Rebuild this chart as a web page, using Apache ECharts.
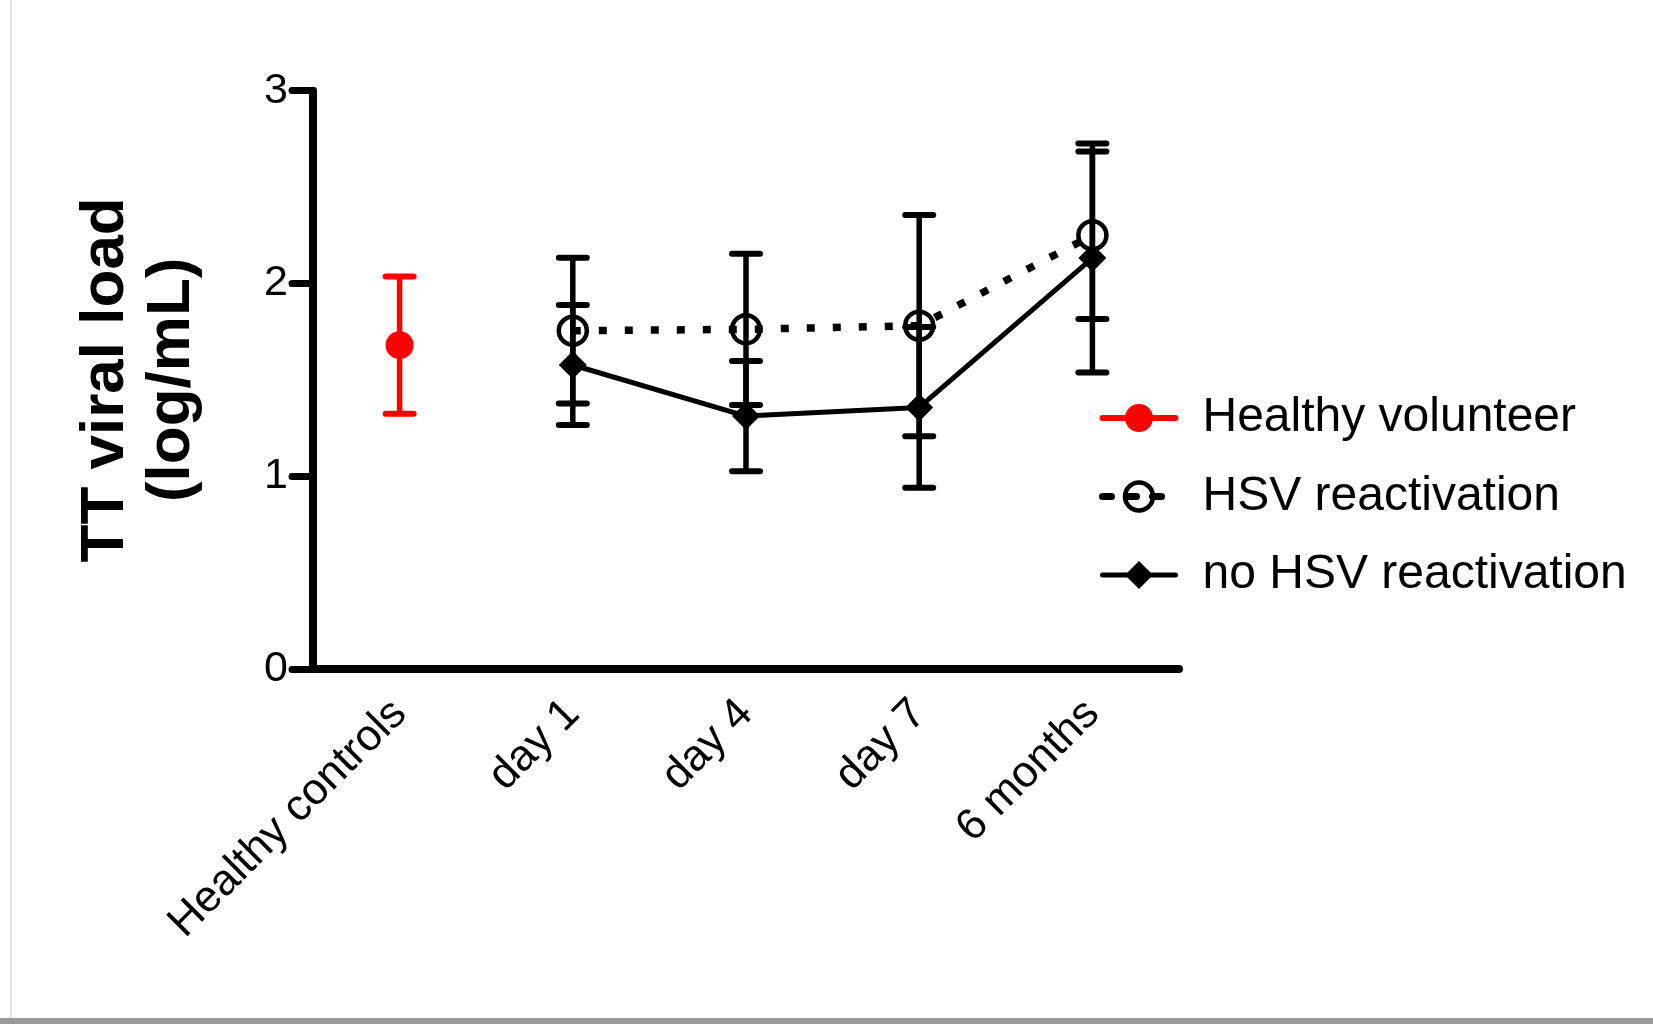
<!DOCTYPE html>
<html>
<head>
<meta charset="utf-8">
<script src="https://cdn.jsdelivr.net/npm/echarts@6/dist/echarts.min.js"></script>
<style>
  html, body { margin: 0; padding: 0; background: #fff; }
  #chart { width: 1653px; height: 1024px; }
</style>
</head>
<body>
<div id="chart"></div>
<script>
// Time points along the x axis
const categories = ['Healthy controls', 'day 1', 'day 4', 'day 7', '6 months'];

// Mean TT viral load (log/mL) and SD for each group
const healthyMean = [1.68, null, null, null, null];
const healthySd   = [0.356, null, null, null, null];
const hsvMean     = [null, 1.755, 1.762, 1.781, 2.25];
const hsvSd       = [null, 0.378, 0.392, 0.574, 0.434];
const noHsvMean   = [null, 1.577, 1.312, 1.357, 2.132];
const noHsvSd     = [null, 0.311, 0.286, 0.417, 0.594];

// y axis range
const yMin = 0, yMax = 3, yStep = 1;

const FONT = '"Liberation Sans", Arial, Helvetica, sans-serif';

function errorData(mean, sd) {
  const out = [];
  mean.forEach((m, i) => {
    if (m != null) out.push([i, m - sd[i], m + sd[i]]);
  });
  return out;
}

// Vertical SD bar with a short cap at each end
function errorBars(color) {
  return function (params, api) {
    const x = api.value(0);
    const pLo = api.coord([x, api.value(1)]);
    const pHi = api.coord([x, api.value(2)]);
    const half = 14;
    const capStyle = { stroke: color, lineWidth: 6, lineCap: 'round' };
    return {
      type: 'group',
      children: [
        { type: 'line', shape: { x1: pLo[0], y1: pLo[1], x2: pHi[0], y2: pHi[1] },
          style: { stroke: color, lineWidth: 5.5 } },
        { type: 'line', shape: { x1: pHi[0] - half, y1: pHi[1], x2: pHi[0] + half, y2: pHi[1] },
          style: capStyle },
        { type: 'line', shape: { x1: pLo[0] - half, y1: pLo[1], x2: pLo[0] + half, y2: pLo[1] },
          style: capStyle }
      ]
    };
  };
}

const chart = echarts.init(document.getElementById('chart'), null, { renderer: 'canvas' });

const hsvDash = [8, 18];

chart.setOption({
  backgroundColor: '#fff',
  animation: false,
  textStyle: { fontFamily: FONT },
  grid: { left: 313, right: 474, top: 90.7, bottom: 355, containLabel: false },
  graphic: [
    { type: 'rect', left: 10, top: 0, shape: { width: 2, height: 1018 },
      style: { fill: '#e2e2e2' }, silent: true },
    { type: 'rect', left: 0, top: 1018, shape: { width: 1653, height: 6 },
      style: { fill: '#9a9a9a' }, silent: true }
  ],
  legend: {
    orient: 'vertical',
    left: 1094,
    top: 388,
    itemWidth: 73,
    itemHeight: 35,
    itemGap: 28.5,
    data: [
      { name: 'Healthy volunteer',
        itemStyle: { color: '#ff0000', borderWidth: 0 },
        lineStyle: { color: '#ff0000', width: 6, cap: 'round' } },
      { name: 'HSV reactivation',
        itemStyle: { color: 'rgba(0,0,0,0)', borderColor: '#000', borderWidth: 4.5 },
        lineStyle: { color: '#000', width: 7, type: [9, 16], cap: 'round' } },
      { name: 'no HSV reactivation',
        itemStyle: { color: '#000', borderWidth: 0 },
        lineStyle: { color: '#000', width: 5, cap: 'round' } }
    ],
    textStyle: {
      fontFamily: FONT, fontSize: 48, color: '#000', lineHeight: 50,
      padding: [0, 0, 0, 22]
    },
    selectedMode: false
  },
  xAxis: {
    type: 'category',
    data: categories,
    boundaryGap: true,
    axisLine: { lineStyle: { color: '#000', width: 8 } },
    axisTick: { alignWithLabel: true, length: 21, lineStyle: { color: '#000', width: 7, cap: 'round' } },
    axisLabel: {
      rotate: 45, margin: 38, color: '#000', fontFamily: FONT, fontSize: 44,
      interval: 0
    },
    splitLine: { show: false }
  },
  yAxis: {
    type: 'value',
    min: yMin, max: yMax, interval: yStep,
    name: 'TT viral load\n(log/mL)',
    nameLocation: 'middle',
    nameRotate: 90,
    nameGap: 108,
    nameTextStyle: { fontFamily: FONT, fontSize: 62, fontWeight: 'bold', color: '#000', lineHeight: 66 },
    axisLine: { show: true, lineStyle: { color: '#000', width: 8 } },
    axisTick: { show: true, length: 21, lineStyle: { color: '#000', width: 7, cap: 'round' } },
    axisLabel: { margin: 25, color: '#000', fontFamily: FONT, fontSize: 43 },
    splitLine: { show: false }
  },
  series: [
    {
      type: 'custom', name: 'err-healthy', z: 1,
      renderItem: errorBars('#ff0000'),
      encode: { x: 0, y: [1, 2] },
      data: errorData(healthyMean, healthySd),
      silent: true
    },
    {
      type: 'custom', name: 'err-hsv', z: 1,
      renderItem: errorBars('#000'),
      encode: { x: 0, y: [1, 2] },
      data: errorData(hsvMean, hsvSd),
      silent: true
    },
    {
      type: 'custom', name: 'err-nohsv', z: 1,
      renderItem: errorBars('#000'),
      encode: { x: 0, y: [1, 2] },
      data: errorData(noHsvMean, noHsvSd),
      silent: true
    },
    {
      type: 'line', name: 'Healthy volunteer', z: 3,
      data: healthyMean,
      symbol: 'circle', symbolSize: 28,
      itemStyle: { color: '#ff0000' },
      lineStyle: { color: '#ff0000', width: 6 },
      connectNulls: false
    },
    {
      type: 'line', name: 'HSV reactivation', z: 3,
      data: hsvMean,
      symbol: 'circle', symbolSize: 28,
      itemStyle: { color: 'rgba(0,0,0,0)', borderColor: '#000', borderWidth: 4.5 },
      lineStyle: { color: '#000', width: 7.5, type: hsvDash, cap: 'butt' }
    },
    {
      type: 'line', name: 'no HSV reactivation', z: 3,
      data: noHsvMean,
      symbol: 'diamond', symbolSize: [28, 28],
      itemStyle: { color: '#000' },
      lineStyle: { color: '#000', width: 5 }
    }
  ]
});
</script>
</body>
</html>
